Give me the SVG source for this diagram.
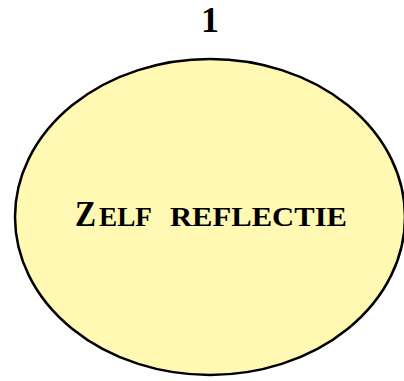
<svg xmlns="http://www.w3.org/2000/svg" width="404" height="381" viewBox="0 0 404 381">
<style>
.lbl{font-family:"Liberation Serif","DejaVu Serif",serif;font-weight:bold;fill:#000}
</style>
<rect width="404" height="381" fill="#fff"/>
<text class="lbl" x="210" y="32" text-anchor="middle" font-size="36">1</text>
<g id="node-zelf-reflectie">
<ellipse cx="210" cy="217" rx="195" ry="158" fill="#fff9b3" stroke="#000" stroke-width="2.5"/>
<text class="lbl" y="226"><tspan x="75" font-size="36" textLength="21" lengthAdjust="spacingAndGlyphs">Z</tspan><tspan x="99" font-size="27" textLength="53" lengthAdjust="spacingAndGlyphs">ELF</tspan><tspan x="170" font-size="27" textLength="177" lengthAdjust="spacingAndGlyphs">REFLECTIE</tspan></text>
</g>
<g id="connectors"/>
</svg>
